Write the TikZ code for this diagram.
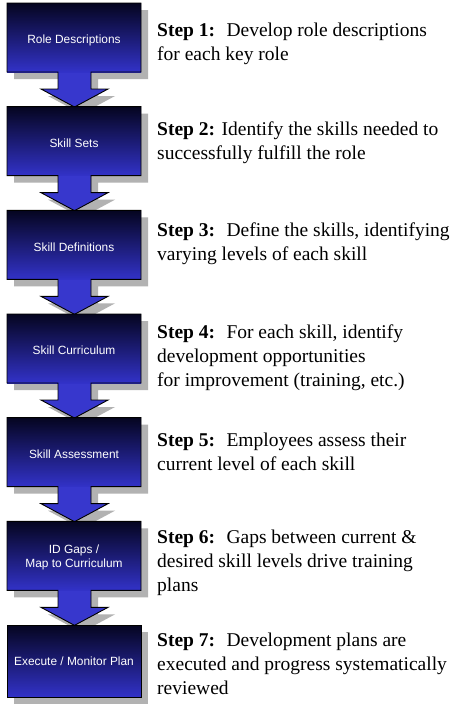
\documentclass[tikz,border=0pt]{standalone}
\usepackage{fontspec}
\setmainfont{Liberation Serif}
\newfontfamily\boxfont{Liberation Sans}
\definecolor{shadowgray}{RGB}{178,178,178}
\definecolor{navytop}{RGB}{5,5,32}
\definecolor{bluebot}{RGB}{50,50,200}
\definecolor{arrowblue}{RGB}{55,55,205}
\tikzset{
  boxlabel/.style={font=\boxfont\fontsize{11.9}{13.5}\selectfont, text=white, align=center, inner sep=0pt},
  steptext/.style={font=\fontsize{19.5}{24.3}\selectfont, align=left, anchor=base west, inner sep=0pt},
  outline/.style={draw=black, line width=0.9pt, line join=miter},
  boxshade/.style={top color=navytop, bottom color=bluebot, draw=none},
}
\begin{document}
\begin{tikzpicture}[x=1pt,y=-1pt]
\useasboundingbox (0,0) rectangle (456,713);
\fill[white] (0,0) rectangle (456,713);
% shadows
\foreach \i in {0,...,5}{
  \pgfmathsetmacro\t{3+\i*103.67}
  \fill[shadowgray, shift={(7,7)}] (7,\t) -- (141,\t) -- (141,\t+69) -- (91,\t+69) -- (91,\t+86) -- (108,\t+86) -- (74.5,\t+104) -- (41,\t+86) -- (58,\t+86) -- (58,\t+69) -- (7,\t+69) -- cycle;
}
\fill[shadowgray, shift={(7,7)}] (7,625) rectangle (141,697);
% shapes
\foreach \i in {0,...,5}{
  \pgfmathsetmacro\t{3+\i*103.67}
  \fill[arrowblue] (91,\t+68) -- (91,\t+86) -- (108,\t+86) -- (74.5,\t+104) -- (41,\t+86) -- (58,\t+86) -- (58,\t+68) -- cycle;
  \shade[boxshade] (7,\t) rectangle (141,\t+69);
  \path[outline] (7,\t) -- (141,\t) -- (141,\t+69) -- (91,\t+69) -- (91,\t+86) -- (108,\t+86) -- (74.5,\t+104) -- (41,\t+86) -- (58,\t+86) -- (58,\t+69) -- (7,\t+69) -- cycle;
}
\shade[boxshade] (7,625) rectangle (141,697);
\path[outline] (7,625) rectangle (141,697);
% box labels
\node[boxlabel] (b1) at (74,40) {Role Descriptions};
\node[boxlabel] (b2) at (74,143.2) {Skill Sets};
\node[boxlabel] (b3) at (74,247) {Skill Definitions};
\node[boxlabel] (b4) at (74,350.5) {Skill Curriculum};
\node[boxlabel] (b5) at (74,454) {Skill Assessment};
\node[boxlabel] (b6) at (74,557.5) {ID Gaps /\\Map to Curriculum};
\node[boxlabel] (b7) at (74,661.5) {Execute / Monitor Plan};
% step texts (anchor at baseline of the last line)
\node[steptext] (s1) at (157,60.3) {\textbf{Step 1:}~ Develop role descriptions\\for each key role};
\node[steptext] (s2) at (157,159.3) {\textbf{Step 2:} Identify the skills needed to\\successfully fulfill the role};
\node[steptext] (s3) at (157,260.3) {\textbf{Step 3:}~ Define the skills, identifying\\varying levels of each skill};
\node[steptext] (s4) at (157,386.6) {\textbf{Step 4:}~ For each skill, identify\\development opportunities\\for improvement (training, etc.)};
\node[steptext] (s5) at (157,470.3) {\textbf{Step 5:}~ Employees assess their\\current level of each skill};
\node[steptext] (s6) at (157,591.6) {\textbf{Step 6:}~ Gaps between current \&\\desired skill levels drive training\\plans};
\node[steptext] (s7) at (157,694.6) {\textbf{Step 7:}~ Development plans are\\executed and progress systematically\\reviewed};
\end{tikzpicture}
\end{document}
